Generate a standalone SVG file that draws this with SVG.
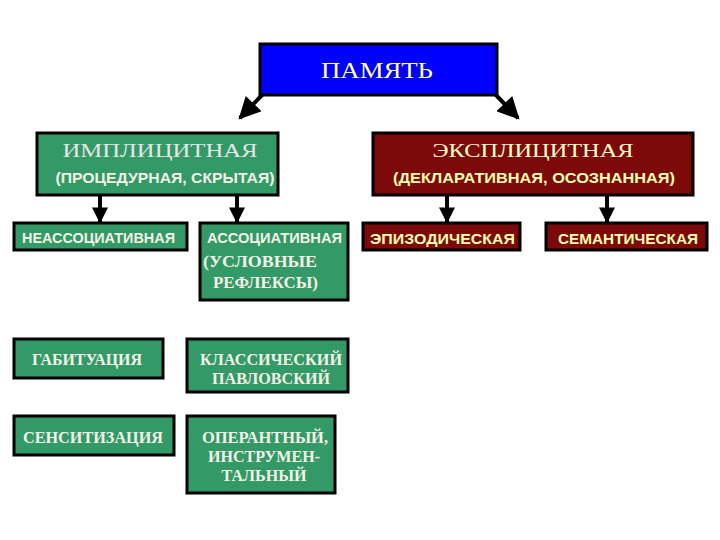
<svg xmlns="http://www.w3.org/2000/svg" width="720" height="540" viewBox="0 0 720 540">
<defs>
<marker id="ah" viewBox="0 0 10 10" refX="9" refY="5" markerWidth="4.5" markerHeight="4" orient="auto" markerUnits="strokeWidth">
<path d="M0,0 L10,5 L0,10 Z" fill="#000"/>
</marker>
<marker id="ah2" viewBox="0 0 10 10" refX="9" refY="5" markerWidth="6" markerHeight="5.5" orient="auto" markerUnits="strokeWidth">
<path d="M0,0 L10,5 L0,10 Z" fill="#000"/>
</marker>
<style>
.box{stroke:#000;stroke-width:3}
.g{fill:#339966}
.r{fill:#7d0a0a}
.b{fill:#0000ff}
.con{stroke:#000;stroke-width:4;fill:none;marker-end:url(#ah)}
.dg{marker-end:url(#ah2)}
.ser{font-family:"Liberation Serif","DejaVu Serif",serif}
.sans{font-family:"Liberation Sans","DejaVu Sans",sans-serif;font-weight:bold}
.wt{fill:#f2f2e8}
.yt{fill:#ffffb0}
</style>
</defs>
<rect width="720" height="540" fill="#fff"/>
<g id="connectors">
<line class="con dg" x1="263" y1="94" x2="240" y2="118"/>
<line class="con dg" x1="495" y1="94" x2="518" y2="118"/>
<line class="con" x1="100" y1="195" x2="100" y2="222"/>
<line class="con" x1="237" y1="195" x2="237" y2="222"/>
<line class="con" x1="447" y1="195" x2="447" y2="222"/>
<line class="con" x1="607" y1="195" x2="607" y2="222"/>
</g>
<g id="pamyat">
<rect class="box b" x="260" y="44" width="237" height="51"/>
<text class="ser" x="377" y="78" font-size="23" text-anchor="middle" fill="#ffff99" textLength="112" lengthAdjust="spacingAndGlyphs">ПАМЯТЬ</text>
</g>
<g id="implicit">
<rect class="box g" x="37" y="133" width="241" height="62"/>
<text class="ser" x="160" y="157" font-size="18" text-anchor="middle" fill="#e6e6e6" textLength="195" lengthAdjust="spacingAndGlyphs">ИМПЛИЦИТНАЯ</text>
<text class="sans wt" x="165" y="183" font-size="14" text-anchor="middle" textLength="219" lengthAdjust="spacingAndGlyphs">(ПРОЦЕДУРНАЯ, СКРЫТАЯ)</text>
</g>
<g id="explicit">
<rect class="box r" x="373" y="133" width="320" height="62"/>
<text class="ser" x="533" y="157" font-size="18" text-anchor="middle" fill="#ffffcc" textLength="201" lengthAdjust="spacingAndGlyphs">ЭКСПЛИЦИТНАЯ</text>
<text class="sans yt" x="393" y="183" font-size="14" textLength="282" lengthAdjust="spacingAndGlyphs">(ДЕКЛАРАТИВНАЯ, ОСОЗНАННАЯ)</text>
</g>
<g id="nonassoc">
<rect class="box g" x="14" y="223" width="173" height="27"/>
<text class="sans wt" x="22" y="243" font-size="14" textLength="153" lengthAdjust="spacingAndGlyphs">НЕАССОЦИАТИВНАЯ</text>
</g>
<g id="assoc">
<rect class="box g" x="200" y="223" width="148" height="77"/>
<text class="sans wt" x="207" y="243" font-size="14" textLength="135" lengthAdjust="spacingAndGlyphs">АССОЦИАТИВНАЯ</text>
<text class="ser wt" x="203" y="267" font-size="16" font-weight="bold" textLength="114" lengthAdjust="spacingAndGlyphs">(УСЛОВНЫЕ</text>
<text class="ser wt" x="213" y="288" font-size="16" font-weight="bold" textLength="105" lengthAdjust="spacingAndGlyphs">РЕФЛЕКСЫ)</text>
</g>
<g id="episodic">
<rect class="box r" x="363" y="223" width="157" height="27"/>
<text class="sans yt" x="370" y="244" font-size="14" textLength="145" lengthAdjust="spacingAndGlyphs">ЭПИЗОДИЧЕСКАЯ</text>
</g>
<g id="semantic">
<rect class="box r" x="546" y="223" width="161" height="27"/>
<text class="sans yt" x="558" y="244" font-size="14" textLength="140" lengthAdjust="spacingAndGlyphs">СЕМАНТИЧЕСКАЯ</text>
</g>
<g id="habituation">
<rect class="box g" x="14" y="339" width="149" height="39"/>
<text class="ser wt" x="87" y="365" font-size="16" font-weight="bold" text-anchor="middle" textLength="110" lengthAdjust="spacingAndGlyphs">ГАБИТУАЦИЯ</text>
</g>
<g id="classical">
<rect class="box g" x="187" y="339" width="161" height="53"/>
<text class="ser wt" x="271" y="365" font-size="16" font-weight="bold" text-anchor="middle" textLength="142" lengthAdjust="spacingAndGlyphs">КЛАССИЧЕСКИЙ</text>
<text class="ser wt" x="271" y="384" font-size="16" font-weight="bold" text-anchor="middle" textLength="118" lengthAdjust="spacingAndGlyphs">ПАВЛОВСКИЙ</text>
</g>
<g id="sensitization">
<rect class="box g" x="14" y="416" width="160" height="39"/>
<text class="ser wt" x="93" y="443" font-size="16" font-weight="bold" text-anchor="middle" textLength="140" lengthAdjust="spacingAndGlyphs">СЕНСИТИЗАЦИЯ</text>
</g>
<g id="operant">
<rect class="box g" x="187" y="416" width="148" height="77"/>
<text class="ser wt" x="265" y="443" font-size="16" font-weight="bold" text-anchor="middle" textLength="126" lengthAdjust="spacingAndGlyphs">ОПЕРАНТНЫЙ,</text>
<text class="ser wt" x="264" y="462" font-size="16" font-weight="bold" text-anchor="middle" textLength="112" lengthAdjust="spacingAndGlyphs">ИНСТРУМЕН-</text>
<text class="ser wt" x="264" y="481" font-size="16" font-weight="bold" text-anchor="middle" textLength="85" lengthAdjust="spacingAndGlyphs">ТАЛЬНЫЙ</text>
</g>
</svg>
